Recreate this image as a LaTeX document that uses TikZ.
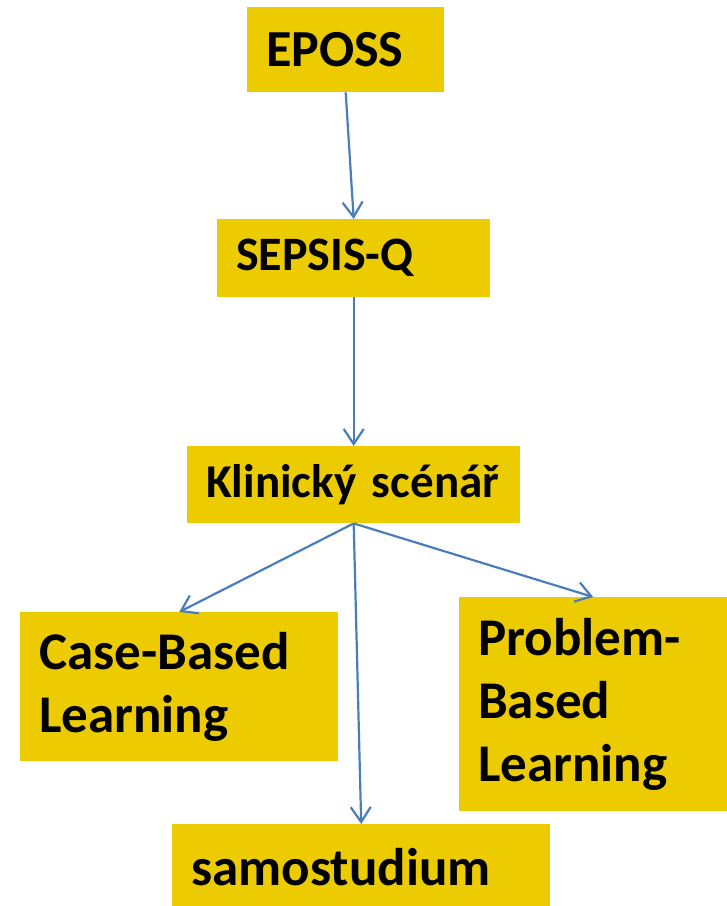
\documentclass[tikz,border=0pt]{standalone}
\usepackage{fontspec}
\setmainfont{Carlito}
\usetikzlibrary{arrows.meta}
\definecolor{boxyellow}{RGB}{236,204,0}
\definecolor{linkblue}{RGB}{74,126,187}

\begin{document}
\begin{tikzpicture}
  [x=1pt,y=-1pt,
   box/.style={fill=boxyellow,anchor=north west,inner xsep=19pt,inner ysep=0pt,
     align=left,font=\bfseries\fontsize{52}{63}\selectfont},
   link/.style={draw=linkblue,line width=2.2pt,-{Straight Barb[length=15pt,width=20pt]}}]
  \useasboundingbox (0,0) rectangle (727,906);
  \node (eposs)  [box,text width=159pt,minimum height=85pt]  at (247,7)   {EPOSS};
  \node (sepsis) [box,text width=235pt,minimum height=78pt,
    font=\bfseries\fontsize{48}{58}\selectfont]              at (217,219) {SEPSIS-Q};
  \node (klin)   [box,text width=295pt,minimum height=77pt,
    font=\bfseries\fontsize{47}{57}\selectfont]              at (187,446) {Klinický scénář};
  \node (cbl)    [box,text width=280pt,minimum height=149pt,
    font=\bfseries\fontsize{53}{63}\selectfont]              at (20,612)  {Case-Based\\Learning};
  \node (pbl)    [box,text width=230pt,minimum height=214pt,
    font=\bfseries\fontsize{53}{63}\selectfont]              at (459,597) {Problem-\\Based\\Learning};
  \node (samo)   [box,text width=340pt,minimum height=85pt,
    font=\bfseries\fontsize{53}{63}\selectfont]              at (172,824) {samostudium};

\foreach \from/\to in
{eposs/sepsis, sepsis/klin, klin/cbl, klin/pbl, klin/samo}
    \draw[link] (\from.south) -- (\to.north);
\end{tikzpicture}
\end{document}
